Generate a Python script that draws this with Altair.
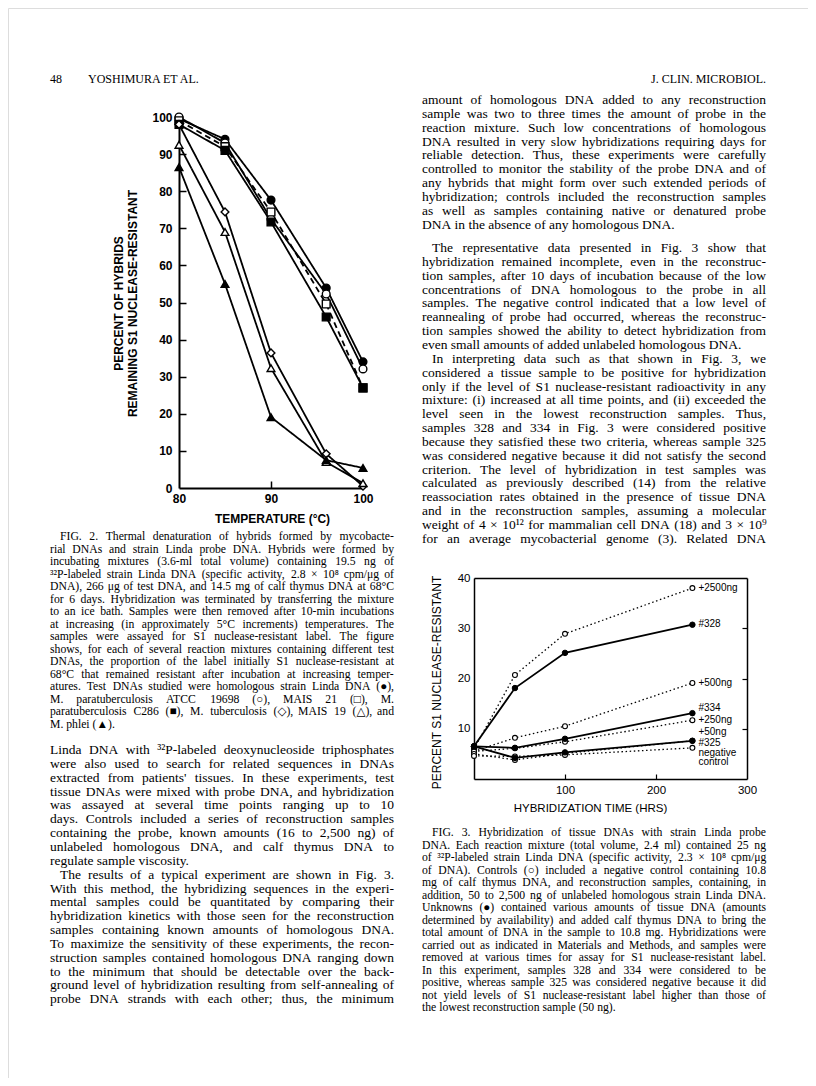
import altair as alt
import pandas as pd

W, H = 800, 1070
M = 8


def px(v):
    return v - M


# ---------------- Figure 2 data ----------------
f2_temp = [80, 85, 90, 96, 100]
f2_linda = [99.5, 94, 77.6, 53.9, 34]
f2_atcc = [100, 93, 72.5, 52.3, 32.1]
f2_mais21 = [99, 92, 74.4, 49.6, 27]
f2_c286 = [98, 91, 71.7, 46.1, 27]
f2_tb = [98, 74.4, 36.4, 9.2, 0.5]
f2_mais19 = [92.5, 69, 32.3, 7, 1.3]
f2_phlei = [86.5, 55, 19.1, 7.5, 5.4]
f2_names = ["Linda", "ATCC 19698", "MAIS 21", "C286", "M. tuberculosis", "MAIS 19", "M. phlei"]
f2_shapes = ["circle", "circle", "square", "square", "diamond", "triangle-up", "triangle-up"]
f2_fills = ["black", "white", "white", "black", "white", "white", "black"]
f2_dash = ["solid", "solid", "dashed", "solid", "solid", "solid", "solid"]
f2_y_ticks = [0, 10, 20, 30, 40, 50, 60, 70, 80, 90, 100]
f2_x_ticks = [80, 90, 100]

# ---------------- Figure 3 data ----------------
f3_time = [0, 45, 100, 240]
f3_ctrl_2500 = [6.0, 20.7, 28.9, 38.0]
f3_ctrl_500 = [5.5, 8.2, 10.5, 19.1]
f3_ctrl_250 = [5.5, 6.1, 7.4, 11.7]
f3_ctrl_50 = [5.0, 3.8, 5.1, 7.6]
f3_ctrl_neg = [4.6, 4.5, 4.8, 6.2]
f3_unk_328 = [6.5, 18.1, 25.1, 30.7]
f3_unk_334 = [6.5, 6.2, 8.0, 13.1]
f3_unk_325 = [6.5, 4.2, 5.3, 7.6]
f3_label_text = ["+2500ng", "#328", "+500ng", "#334", "+250ng", "+50ng", "#325", "negative", "control"]
f3_label_y = [38.0, 30.9, 19.1, 14.1, 11.8, 9.4, 7.2, 5.2, 3.4]
f3_y_ticks = [10, 20, 30, 40]
f3_x_ticks = [100, 200, 300]

# ---------------- Page text ----------------
header_left = ["48", "YOSHIMURA ET AL."]
header_right = "J. CLIN. MICROBIOL."

right_lines = [
    "amount of homologous DNA added to any reconstruction",
    "sample was two to three times the amount of probe in the",
    "reaction mixture. Such low concentrations of homologous",
    "DNA resulted in very slow hybridizations requiring days for",
    "reliable detection. Thus, these experiments were carefully",
    "controlled to monitor the stability of the probe DNA and of",
    "any hybrids that might form over such extended periods of",
    "hybridization; controls included the reconstruction samples",
    "as well as samples containing native or denatured probe",
    "DNA in the absence of any homologous DNA.",
    "The representative data presented in Fig. 3 show that",
    "hybridization remained incomplete, even in the reconstruc-",
    "tion samples, after 10 days of incubation because of the low",
    "concentrations of DNA homologous to the probe in all",
    "samples. The negative control indicated that a low level of",
    "reannealing of probe had occurred, whereas the reconstruc-",
    "tion samples showed the ability to detect hybridization from",
    "even small amounts of added unlabeled homologous DNA.",
    "In interpreting data such as that shown in Fig. 3, we",
    "considered a tissue sample to be positive for hybridization",
    "only if the level of S1 nuclease-resistant radioactivity in any",
    "mixture: (i) increased at all time points, and (ii) exceeded the",
    "level seen in the lowest reconstruction samples. Thus,",
    "samples 328 and 334 in Fig. 3 were considered positive",
    "because they satisfied these two criteria, whereas sample 325",
    "was considered negative because it did not satisfy the second",
    "criterion. The level of hybridization in test samples was",
    "calculated as previously described (14) from the relative",
    "reassociation rates obtained in the presence of tissue DNA",
    "and in the reconstruction samples, assuming a molecular",
    "weight of 4 × 10¹² for mammalian cell DNA (18) and 3 × 10⁹",
    "for an average mycobacterial genome (3). Related DNA",
]

fig2_caption = [
    "FIG. 2. Thermal denaturation of hybrids formed by mycobacte-",
    "rial DNAs and strain Linda probe DNA. Hybrids were formed by",
    "incubating mixtures (3.6-ml total volume) containing 19.5 ng of",
    "³²P-labeled strain Linda DNA (specific activity, 2.8 × 10⁸ cpm/μg of",
    "DNA), 266 μg of test DNA, and 14.5 mg of calf thymus DNA at 68°C",
    "for 6 days. Hybridization was terminated by transferring the mixture",
    "to an ice bath. Samples were then removed after 10-min incubations",
    "at increasing (in approximately 5°C increments) temperatures. The",
    "samples were assayed for S1 nuclease-resistant label. The figure",
    "shows, for each of several reaction mixtures containing different test",
    "DNAs, the proportion of the label initially S1 nuclease-resistant at",
    "68°C that remained resistant after incubation at increasing temper-",
    "atures. Test DNAs studied were homologous strain Linda DNA (●),",
    "M. paratuberculosis ATCC 19698 (○), MAIS 21 (□), M.",
    "paratuberculosis C286 (■), M. tuberculosis (◇), MAIS 19 (△), and",
    "M. phlei (▲).",
]

left_lines = [
    "Linda DNA with ³²P-labeled deoxynucleoside triphosphates",
    "were also used to search for related sequences in DNAs",
    "extracted from patients' tissues. In these experiments, test",
    "tissue DNAs were mixed with probe DNA, and hybridization",
    "was assayed at several time points ranging up to 10",
    "days. Controls included a series of reconstruction samples",
    "containing the probe, known amounts (16 to 2,500 ng) of",
    "unlabeled homologous DNA, and calf thymus DNA to",
    "regulate sample viscosity.",
    "The results of a typical experiment are shown in Fig. 3.",
    "With this method, the hybridizing sequences in the experi-",
    "mental samples could be quantitated by comparing their",
    "hybridization kinetics with those seen for the reconstruction",
    "samples containing known amounts of homologous DNA.",
    "To maximize the sensitivity of these experiments, the recon-",
    "struction samples contained homologous DNA ranging down",
    "to the minimum that should be detectable over the back-",
    "ground level of hybridization resulting from self-annealing of",
    "probe DNA strands with each other; thus, the minimum",
]

fig3_caption = [
    "FIG. 3. Hybridization of tissue DNAs with strain Linda probe",
    "DNA. Each reaction mixture (total volume, 2.4 ml) contained 25 ng",
    "of ³²P-labeled strain Linda DNA (specific activity, 2.3 × 10⁸ cpm/μg",
    "of DNA). Controls (○) included a negative control containing 10.8",
    "mg of calf thymus DNA, and reconstruction samples, containing, in",
    "addition, 50 to 2,500 ng of unlabeled homologous strain Linda DNA.",
    "Unknowns (●) contained various amounts of tissue DNA (amounts",
    "determined by availability) and added calf thymus DNA to bring the",
    "total amount of DNA in the sample to 10.8 mg. Hybridizations were",
    "carried out as indicated in Materials and Methods, and samples were",
    "removed at various times for assay for S1 nuclease-resistant label.",
    "In this experiment, samples 328 and 334 were considered to be",
    "positive, whereas sample 325 was considered negative because it did",
    "not yield levels of S1 nuclease-resistant label higher than those of",
    "the lowest reconstruction sample (50 ng).",
]

SANS = "Liberation Sans, Arial, Helvetica, sans-serif"
SERIF = "Liberation Serif, Times New Roman, DejaVu Serif, serif"

# ---------------- Figure 2 ----------------
f2_vals = [f2_linda, f2_atcc, f2_mais21, f2_c286, f2_tb, f2_mais19, f2_phlei]
rows = []
for name, vals, dash in zip(f2_names, f2_vals, f2_dash):
    for t, v in zip(f2_temp, vals):
        rows.append({"series": name, "temp": t, "value": v, "dash": dash})
df2 = pd.DataFrame(rows)

X2L, X2R, Y2B, Y2T = 179, 363, 488, 117
x2 = alt.Scale(domain=[80, 100], range=[px(X2L), px(X2R)], nice=False, zero=False)
y2 = alt.Scale(domain=[0, 100], range=[px(Y2B), px(Y2T)], nice=False)

ax2_x_lab = alt.Axis(
    orient="bottom", offset=px(Y2B) - H, values=f2_x_ticks, ticks=False, domain=True,
    domainColor="black", domainWidth=2, labelFont=SANS, labelFontWeight="bold",
    labelFontSize=12, labelColor="black", labelPadding=5, labelFlush=False,
    labelOverlap=False, grid=False, title="TEMPERATURE (°C)", titleFont=SANS,
    titleFontSize=12, titleFontWeight="bold", titleColor="black",
    titleX=px(272), titleY=518 - Y2B, titleAlign="center", titleBaseline="middle",
    titleAngle=0,
)
ax2_y_lab = alt.Axis(
    orient="left", offset=-px(X2L), values=f2_y_ticks, ticks=False, domain=True,
    domainColor="black", domainWidth=2, labelFont=SANS, labelFontWeight="bold",
    labelFontSize=12, labelColor="black", labelPadding=7, labelOverlap=False,
    grid=False, title=["PERCENT OF HYBRIDS", "REMAINING S1 NUCLEASE-RESISTANT"],
    titleFont=SANS, titleFontSize=12, titleFontWeight="bold", titleColor="black",
    titleX=118 - X2L, titleY=px(303), titleAngle=270, titleAlign="center",
    titleBaseline="middle", titleLineHeight=14.5,
)
ax2_x_tick = alt.Axis(
    orient="top", offset=-px(Y2B), values=[90], ticks=True, tickSize=7, tickWidth=1.5,
    tickColor="black", labels=False, domain=False, grid=False, title=None,
)
ax2_y_tick = alt.Axis(
    orient="right", offset=px(X2L) - W, values=f2_y_ticks[1:-1], ticks=True, tickSize=7,
    tickWidth=1.5, tickColor="black", labels=False, domain=False, grid=False, title=None,
)

lines2 = alt.Chart(df2).mark_line(color="black", strokeWidth=1.8).encode(
    x=alt.X("temp:Q", scale=x2, axis=ax2_x_lab),
    y=alt.Y("value:Q", scale=y2, axis=ax2_y_lab),
    detail="series:N",
    strokeDash=alt.StrokeDash(
        "dash:N", scale=alt.Scale(domain=["solid", "dashed"], range=[[1, 0], [6, 4]]), legend=None
    ),
)
points2 = alt.Chart(df2).mark_point(
    filled=True, stroke="black", strokeWidth=1.4, size=60, opacity=1
).encode(
    x=alt.X("temp:Q", scale=x2, axis=ax2_x_tick),
    y=alt.Y("value:Q", scale=y2, axis=ax2_y_tick),
    shape=alt.Shape("series:N", scale=alt.Scale(domain=f2_names, range=f2_shapes), legend=None),
    fill=alt.Fill("series:N", scale=alt.Scale(domain=f2_names, range=f2_fills), legend=None),
)
fig2 = alt.layer(lines2, points2).resolve_axis(x="independent", y="independent")

# ---------------- Figure 3 ----------------
ctrl_names = ["+2500ng", "+500ng", "+250ng", "+50ng", "negative control"]
ctrl_vals = [f3_ctrl_2500, f3_ctrl_500, f3_ctrl_250, f3_ctrl_50, f3_ctrl_neg]
unk_names = ["#328", "#334", "#325"]
unk_vals = [f3_unk_328, f3_unk_334, f3_unk_325]
df3c = pd.DataFrame(
    [{"series": n, "t": t, "v": v} for n, vs in zip(ctrl_names, ctrl_vals) for t, v in zip(f3_time, vs)]
)
df3u = pd.DataFrame(
    [{"series": n, "t": t, "v": v} for n, vs in zip(unk_names, unk_vals) for t, v in zip(f3_time, vs)]
)
df3l = pd.DataFrame({"t": [f3_time[-1]] * len(f3_label_text), "v": f3_label_y, "text": f3_label_text})

X3L, X3R, Y3B, Y3T = 474, 747, 779, 578
x3 = alt.Scale(domain=[0, 300], range=[px(X3L), px(X3R)], nice=False, zero=False)
y3 = alt.Scale(domain=[0, 40], range=[px(Y3B), px(Y3T)], nice=False)

ax3_x_lab = alt.Axis(
    orient="bottom", offset=px(Y3B) - H, values=f3_x_ticks, ticks=False, domain=True,
    domainColor="black", domainWidth=1.5, labelFont=SANS, labelFontSize=11.5,
    labelColor="black", labelPadding=5, labelFlush=False, labelOverlap=False, grid=False,
    title="HYBRIDIZATION TIME (HRS)", titleFont=SANS, titleFontSize=11.5,
    titleFontWeight="normal", titleColor="black", titleX=px(590), titleY=808 - Y3B,
    titleAlign="center", titleBaseline="middle", titleAngle=0,
)
ax3_y_lab = alt.Axis(
    orient="left", offset=-px(X3L), values=f3_y_ticks, ticks=False, domain=True,
    domainColor="black", domainWidth=1.5, labelFont=SANS, labelFontSize=11.5,
    labelColor="black", labelPadding=4, labelOverlap=False, grid=False,
    title="PERCENT S1 NUCLEASE-RESISTANT", titleFont=SANS, titleFontSize=12,
    titleFontWeight="normal", titleColor="black", titleX=436 - X3L, titleY=px(682),
    titleAngle=270, titleAlign="center", titleBaseline="middle",
)
ax3_x_tick = alt.Axis(
    orient="top", offset=-px(Y3B), values=[100, 200], ticks=True, tickSize=5,
    tickWidth=1.2, tickColor="black", labels=False, domain=False, grid=False, title=None,
)
ax3_y_frame = alt.Axis(
    orient="left", offset=-px(X3R), values=[10, 20, 30], ticks=True, tickSize=5,
    tickWidth=1.2, tickColor="black", labels=False, domain=True, domainColor="black",
    domainWidth=1.5, grid=False, title=None,
)
ax3_x_frame = alt.Axis(
    orient="top", offset=-px(Y3T), ticks=False, labels=False, domain=True,
    domainColor="black", domainWidth=1.5, grid=False, title=None,
)

ctrl_lines = alt.Chart(df3c).mark_line(color="black", strokeWidth=1.3, strokeDash=[1.5, 2.6]).encode(
    x=alt.X("t:Q", scale=x3, axis=ax3_x_tick),
    y=alt.Y("v:Q", scale=y3, axis=ax3_y_frame),
    detail="series:N",
)
unk_lines = alt.Chart(df3u).mark_line(color="black", strokeWidth=1.8).encode(
    x=alt.X("t:Q", scale=x3, axis=ax3_x_lab),
    y=alt.Y("v:Q", scale=y3, axis=ax3_y_lab),
    detail="series:N",
)
ctrl_pts = alt.Chart(df3c).mark_point(
    shape="circle", filled=True, fill="white", stroke="black", strokeWidth=1.1, size=24, opacity=1
).encode(
    x=alt.X("t:Q", scale=x3, axis=ax3_x_frame),
    y=alt.Y("v:Q", scale=y3, axis=None),
)
unk_pts = alt.Chart(df3u).mark_point(
    shape="circle", filled=True, fill="black", stroke="black", strokeWidth=1, size=30, opacity=1
).encode(
    x=alt.X("t:Q", scale=x3, axis=None),
    y=alt.Y("v:Q", scale=y3, axis=None),
)
labels3 = alt.Chart(df3l).mark_text(
    align="left", baseline="middle", dx=6, font=SANS, fontSize=10, color="black"
).encode(
    x=alt.X("t:Q", scale=x3, axis=None),
    y=alt.Y("v:Q", scale=y3, axis=None),
    text="text:N",
)
fig3 = alt.layer(ctrl_lines, unk_lines, ctrl_pts, unk_pts, labels3).resolve_axis(
    x="independent", y="independent"
)

# ---------------- Page text layout (justified, Times metrics) ----------------
TW = {}
for ch, w in zip("abcdefghijklmnopqrstuvwxyz",
                 [444, 500, 444, 500, 444, 333, 500, 500, 278, 278, 500, 278, 778,
                  500, 500, 500, 500, 333, 389, 278, 500, 500, 722, 500, 500, 444]):
    TW[ch] = w
for ch, w in zip("ABCDEFGHIJKLMNOPQRSTUVWXYZ",
                 [722, 667, 667, 722, 611, 556, 722, 722, 333, 389, 722, 611, 889,
                  722, 722, 556, 722, 667, 556, 611, 722, 722, 944, 722, 722, 611]):
    TW[ch] = w
for ch in "0123456789":
    TW[ch] = 500
TW.update({" ": 250, ",": 250, ".": 250, ":": 278, ";": 278, "(": 333, ")": 333,
           "-": 333, "'": 180, "×": 564, "°": 400, "μ": 500, "¹": 300, "²": 300,
           "³": 300, "⁸": 300, "⁹": 300, "#": 500, "+": 564, "/": 278,
           "●": 600, "○": 600, "□": 600, "■": 600, "◇": 600, "△": 600, "▲": 600})


def tw(s, size):
    return sum(TW.get(c, 500) for c in s) * size / 1000.0


def justified(lines, x0, width, y0, dy, size, indent_idx=(), ragged_idx=(), gaps=None, indent=10):
    out = []
    y = y0
    for i, line in enumerate(lines):
        if gaps and i in gaps:
            y += gaps[i]
        xs = x0 + (indent if i in indent_idx else 0)
        avail = x0 + width - xs
        words = line.split(" ")
        ww = [tw(w, size) for w in words]
        if i in ragged_idx or len(words) == 1:
            gap = 0.25 * size
        else:
            gap = max((avail - sum(ww)) / (len(words) - 1), 0.15 * size)
        x = xs
        for w, wi in zip(words, ww):
            out.append({"x": px(x), "y": px(y), "text": w})
            x += wi + gap
        y += dy
    return pd.DataFrame(out)


def text_layer(df, size, font=SERIF, align="left"):
    return alt.Chart(df).mark_text(
        align=align, baseline="middle", font=font, fontSize=size, color="black"
    ).encode(
        x=alt.X("x:Q", scale=None, axis=None),
        y=alt.Y("y:Q", scale=None, axis=None),
        text="text:N",
    )


HDR_Y = 79
hdr_l = pd.DataFrame({"x": [px(50), px(88)], "y": [px(HDR_Y), px(HDR_Y)], "text": header_left})
hdr_r = pd.DataFrame({"x": [px(766)], "y": [px(HDR_Y)], "text": [header_right]})

BODY = 13.5
CAP = 11.7
LCOL, RCOL, COLW = 50, 422, 344

t_hdr_l = text_layer(hdr_l, 12)
t_hdr_r = text_layer(hdr_r, 12, align="right")
t_right = text_layer(
    justified(right_lines, RCOL, COLW, 100, 13.85, BODY, indent_idx=(10, 18),
              ragged_idx=(9, 17), gaps={10: 9.5}), BODY)
t_cap2 = text_layer(
    justified(fig2_caption, LCOL, COLW, 536, 12.5, CAP, indent_idx=(0,), ragged_idx=(15,)), CAP)
t_left = text_layer(
    justified(left_lines, LCOL, COLW, 750, 13.85, BODY, indent_idx=(9,), ragged_idx=(8,)), BODY)
t_cap3 = text_layer(
    justified(fig3_caption, RCOL, COLW, 832, 12.5, CAP, indent_idx=(0,), ragged_idx=(14,)), CAP)

chart = (
    alt.layer(fig2, fig3, t_hdr_l, t_hdr_r, t_right, t_cap2, t_left, t_cap3)
    .resolve_scale(x="independent", y="independent")
    .properties(width=W, height=H, autosize=alt.AutoSizeParams(type="none"), padding=0)
    .configure_view(strokeWidth=0)
    .configure(background="white")
)

chart.save("out.html", embed_options={"renderer": "svg", "actions": False})
